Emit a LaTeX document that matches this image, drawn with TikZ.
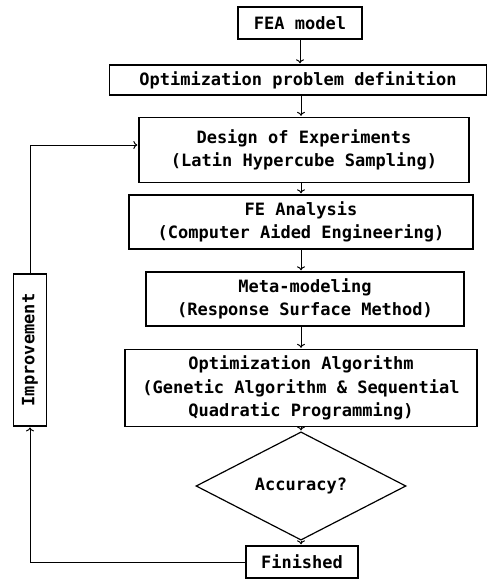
\documentclass[tikz,border=0pt]{standalone}
\usepackage{fontspec}
\newfontfamily\diagmono{DejaVu Sans Mono}
\usetikzlibrary{shapes.geometric,arrows.meta}
\begin{document}
\begin{tikzpicture}[x=1pt,y=-1pt,
  box/.style={draw,line width=1.7pt,align=center,inner sep=0pt,
    font=\diagmono\bfseries\fontsize{17}{23.5}\selectfont},
  conn/.style={line width=1pt,shorten >=0.8pt,-{To[length=4pt,width=8pt]}}]
\useasboundingbox (0,0) rectangle (488,579);
\node[box,minimum width=124pt,minimum height=32pt] (fea) at (300,23) {FEA model};
\node[box,minimum width=377pt,minimum height=30pt] (opd) at (298,80) {Optimization problem definition};
\node[box,minimum width=330pt,minimum height=65pt] (doe) at (304,150) {Design of Experiments\\(Latin Hypercube Sampling)};
\node[box,minimum width=344pt,minimum height=54pt] (fe) at (301,222) {FE Analysis\\(Computer Aided Engineering)};
\node[box,minimum width=318pt,minimum height=54pt] (meta) at (305,299) {Meta-modeling\\(Response Surface Method)};
\node[box,minimum width=352pt,minimum height=77pt] (oa) at (301,388) {Optimization Algorithm\\(Genetic Algorithm \& Sequential\\Quadratic Programming)};
\node[box,diamond,line width=1.2pt,minimum width=210pt,minimum height=74pt] (acc) at (301,486) {Accuracy?};
\node[box,minimum width=112pt,minimum height=32pt] (fin) at (302,562) {Finished};
\node[box,line width=1.2pt,minimum width=152pt,minimum height=33pt,rotate=90] (imp) at (30,350) {Improvement};
\draw[conn] (fea.south) -- (fea.south |- opd.north);
\draw[conn] (301,0 |- opd.south) -- (301,0 |- doe.north);
\draw[conn] (301,0 |- doe.south) -- (301,0 |- fe.north);
\draw[conn] (301,0 |- fe.south) -- (301,0 |- meta.north);
\draw[conn] (301,0 |- meta.south) -- (301,0 |- oa.north);
\draw[conn] (301,0 |- oa.south) -- (acc.north);
\draw[conn] (acc.south) -- (acc.south |- fin.north);
\draw[conn] (fin.west) -| (imp.west);
\draw[conn] (imp.east) |- ([yshift=5pt]doe.west);
\end{tikzpicture}
\end{document}
